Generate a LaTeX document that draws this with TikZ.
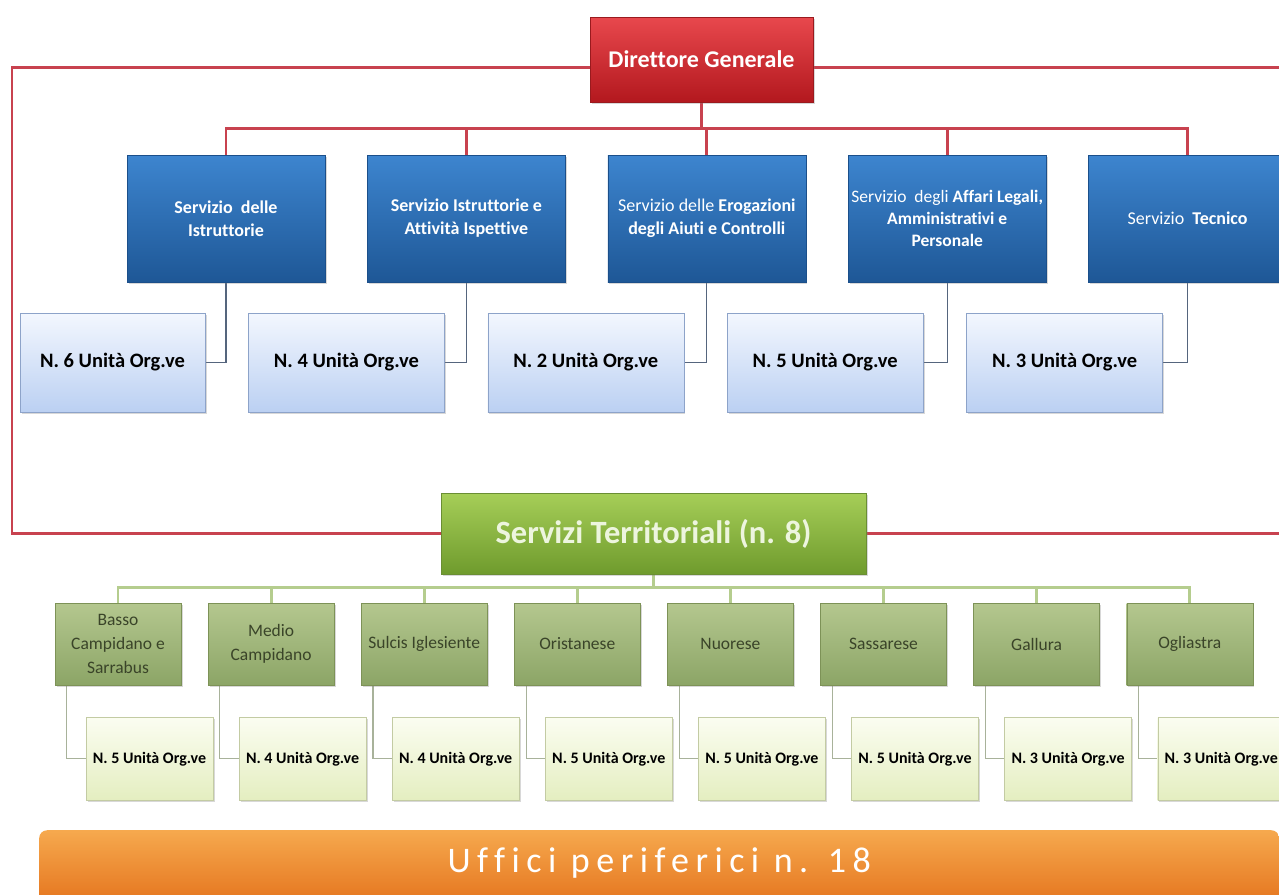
\documentclass[tikz,border=0pt]{standalone}
\usepackage{fontspec}
\setmainfont[Ligatures=NoCommon]{Carlito}
\usepackage{tikz}
\usetikzlibrary{positioning,shadows,backgrounds}
\definecolor{dgtop}{HTML}{E8484D}
\definecolor{dgbot}{HTML}{B3181E}
\definecolor{dgedge}{HTML}{9A1A1E}
\definecolor{servtop}{HTML}{3D85CF}
\definecolor{servbot}{HTML}{1E5796}
\definecolor{servedge}{HTML}{1B4F8A}
\definecolor{unittop}{HTML}{F3F7FE}
\definecolor{unitbot}{HTML}{BBD0F2}
\definecolor{unitedge}{HTML}{8DA3C9}
\definecolor{terrtop}{HTML}{A6CE58}
\definecolor{terrbot}{HTML}{6F9B2D}
\definecolor{terredge}{HTML}{6A8E33}
\definecolor{areatop}{HTML}{B4C78F}
\definecolor{areabot}{HTML}{8CA566}
\definecolor{areaedge}{HTML}{7D9257}
\definecolor{areatext}{HTML}{3A4429}
\definecolor{paletop}{HTML}{FBFDF1}
\definecolor{palebot}{HTML}{E4EEC0}
\definecolor{paleedge}{HTML}{C3CBA3}
\definecolor{bandtop}{HTML}{F6A94E}
\definecolor{bandbot}{HTML}{E3701A}
\definecolor{linkred}{HTML}{C8424F}
\definecolor{linkblue}{HTML}{55657D}
\definecolor{linkgreen}{HTML}{B5CD8E}
\definecolor{linkpale}{HTML}{A8B29A}
\tikzset{
  boxshadow/.style={drop shadow={opacity=0.3, shadow xshift=1.5pt, shadow yshift=-2pt}},
  dirbox/.style={draw=dgedge, top color=dgtop, bottom color=dgbot, minimum width=223pt, minimum height=85pt, text=white, font=\fontsize{24}{28}\selectfont\bfseries, boxshadow},
  servbox/.style={draw=servedge, top color=servtop, bottom color=servbot, minimum width=198pt, minimum height=127pt, text=white, font=\fontsize{18}{23}\selectfont\bfseries, align=center, inner sep=1pt, boxshadow},
  unitbox/.style={draw=unitedge, top color=unittop, bottom color=unitbot, minimum width=196pt, minimum height=99pt, font=\fontsize{20.5}{24}\selectfont\bfseries, boxshadow},
  terrbox/.style={draw=terredge, top color=terrtop, bottom color=terrbot, minimum width=425pt, minimum height=81pt, text=terrtop!20, font=\fontsize{32.5}{36}\selectfont\bfseries, boxshadow},
  areabox/.style={draw=areaedge, top color=areatop, bottom color=areabot, minimum width=126pt, minimum height=82pt, text=areatext, font=\fontsize{17.5}{24}\selectfont, align=center, inner sep=1pt, boxshadow},
  areaunit/.style={draw=paleedge, top color=paletop, bottom color=palebot, minimum width=127pt, minimum height=83pt, font=\fontsize{16}{18}\selectfont\bfseries, inner sep=1pt, boxshadow},
  bandbox/.style={rounded corners=8pt, top color=bandtop, bottom color=bandbot, minimum width=1240pt, minimum height=80pt, text depth=20pt, text=white, font=\fontsize{36}{40}\selectfont\addfontfeature{LetterSpace=18}},
  redline/.style={draw=linkred, line width=2.8pt},
  blueline/.style={draw=linkblue, line width=1.1pt},
  greenline/.style={draw=linkgreen, line width=2.8pt},
  paleline/.style={draw=linkpale, line width=1.1pt},
}

\begin{document}
\begin{tikzpicture}[x=1pt, y=-1pt, node distance=42pt]
\useasboundingbox (0,0) rectangle (1279,894);
% direction and central services
\node[dirbox] (dg) at (701.5,59.5) {Direttore Generale};
\node[servbox] (s1) at (226,218.5) {Servizio\ \ delle\\Istruttorie};
\node[servbox, right=of s1] (s2) {Servizio Istruttorie e\\Attività Ispettive};
\node[servbox, right=of s2] (s3) {{\mdseries Servizio delle} Erogazioni\\degli Aiuti e Controlli};
\node[servbox, right=of s3, font=\fontsize{17.5}{22}\selectfont\bfseries] (s4) {{\mdseries Servizio\ \ degli} Affari Legali,\\Amministrativi e\\Personale};
\node[servbox, right=of s4] (s5) {{\mdseries Servizio}\ \ Tecnico};
\node[unitbox, minimum width=185pt] (u1) at (112.5,362.5) {N. 6 Unità Org.ve};
\node[unitbox, right=43pt of u1] (u2) {N. 4 Unità Org.ve};
\node[unitbox, right=43pt of u2] (u3) {N. 2 Unità Org.ve};
\node[unitbox, right=43pt of u3] (u4) {N. 5 Unità Org.ve};
\node[unitbox, right=43pt of u4] (u5) {N. 3 Unità Org.ve};
% territorial services
\node[terrbox] (st) at (653.5,533.5) {Servizi Territoriali (n. 8)};
\node[areabox] (a1) at (118,644) {Basso\\Campidano e\\Sarrabus};
\node[areabox, right=26.7pt of a1] (a2) {Medio\\Campidano};
\node[areabox, right=26.7pt of a2] (a3) {Sulcis Iglesiente};
\node[areabox, right=26.7pt of a3] (a4) {Oristanese};
\node[areabox, right=26.7pt of a4] (a5) {Nuorese};
\node[areabox, right=26.7pt of a5] (a6) {Sassarese};
\node[areabox, right=26.7pt of a6] (a7) {Gallura};
\node[areabox, right=26.7pt of a7] (a8) {Ogliastra};
\node[areaunit, below=32pt of a1.south west, anchor=north west, xshift=31pt] (b1) {N. 5 Unità Org.ve};
\node[areaunit, below=32pt of a2.south west, anchor=north west, xshift=31pt] (b2) {N. 4 Unità Org.ve};
\node[areaunit, below=32pt of a3.south west, anchor=north west, xshift=31pt] (b3) {N. 4 Unità Org.ve};
\node[areaunit, below=32pt of a4.south west, anchor=north west, xshift=31pt] (b4) {N. 5 Unità Org.ve};
\node[areaunit, below=32pt of a5.south west, anchor=north west, xshift=31pt] (b5) {N. 5 Unità Org.ve};
\node[areaunit, below=32pt of a6.south west, anchor=north west, xshift=31pt] (b6) {N. 5 Unità Org.ve};
\node[areaunit, below=32pt of a7.south west, anchor=north west, xshift=31pt] (b7) {N. 3 Unità Org.ve};
\node[areaunit, below=32pt of a8.south west, anchor=north west, xshift=31pt] (b8) {N. 3 Unità Org.ve};
% peripheral offices
\node[bandbox, anchor=north west] (uff) at (39,830) {Uffici periferici n. 18};
\coordinate (lx) at (12,0);
\coordinate (rx) at (1279,0);
\coordinate (dgl) at ([yshift=-8pt]dg.west);
\coordinate (dgr) at ([yshift=-8pt]dg.east);
\begin{scope}[on background layer]
\fill[white] (0,0) rectangle (1279,894);
% outer loop
\draw[redline] (dgl) -| (lx |- st.west) -- (st.west);
\draw[redline] (dgr) -- (dgr -| rx);
\draw[redline] (st.east) -- (st.east -| rx);
% red tree
\draw[redline] (dg.south) -- ++(0,26) coordinate (rb);
\draw[redline] (s1.north) |- (rb) -| (s5.north);
\draw[redline] (s2.north) -- (s2.north |- rb);
\draw[redline] (s3.north) -- (s3.north |- rb);
\draw[redline] (s4.north) -- (s4.north |- rb);
\draw[blueline] (s1.south) |- (u1.east);
\draw[blueline] (s2.south) |- (u2.east);
\draw[blueline] (s3.south) |- (u3.east);
\draw[blueline] (s4.south) |- (u4.east);
\draw[blueline] (s5.south) |- (u5.east);
% green tree
\draw[greenline] (st.south) -- ++(0,13) coordinate (gb);
\draw[greenline] (a1.north) |- (gb) -| (a8.north);
\draw[greenline] (a2.north) -- (a2.north |- gb);
\draw[greenline] (a3.north) -- (a3.north |- gb);
\draw[greenline] (a4.north) -- (a4.north |- gb);
\draw[greenline] (a5.north) -- (a5.north |- gb);
\draw[greenline] (a6.north) -- (a6.north |- gb);
\draw[greenline] (a7.north) -- (a7.north |- gb);
\draw[paleline] ([xshift=12pt]a1.south west) |- (b1.west);
\draw[paleline] ([xshift=12pt]a2.south west) |- (b2.west);
\draw[paleline] ([xshift=12pt]a3.south west) |- (b3.west);
\draw[paleline] ([xshift=12pt]a4.south west) |- (b4.west);
\draw[paleline] ([xshift=12pt]a5.south west) |- (b5.west);
\draw[paleline] ([xshift=12pt]a6.south west) |- (b6.west);
\draw[paleline] ([xshift=12pt]a7.south west) |- (b7.west);
\draw[paleline] ([xshift=12pt]a8.south west) |- (b8.west);
\end{scope}
\end{tikzpicture}
\end{document}
